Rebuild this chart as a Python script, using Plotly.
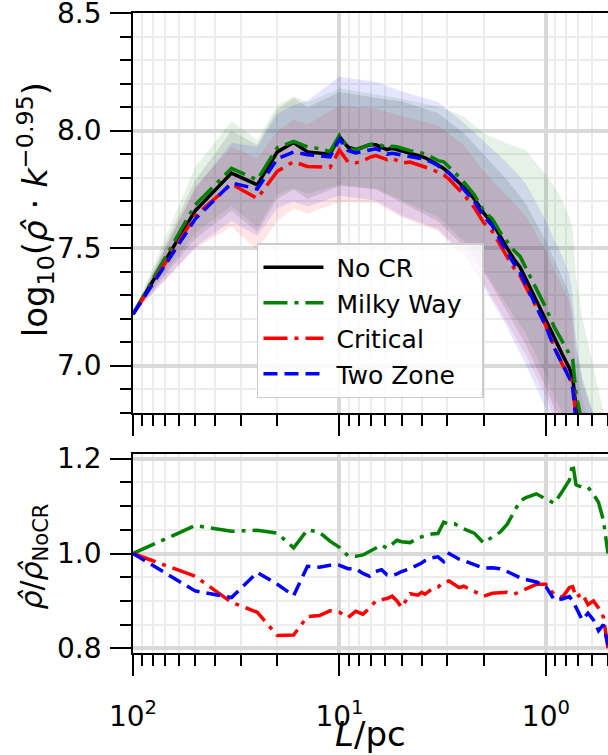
import numpy as np
import plotly.graph_objects as go

# Wavenumber index k of each power-spectrum bin; scale L = 100 pc / k
k = [1, 2, 3, 4, 5, 6, 7, 8, 9, 10, 11, 12, 13, 14, 15, 16, 17, 18, 19, 20,
     22, 24, 25, 26, 28, 30, 32, 34, 36, 38, 40, 45, 50, 55, 60, 65, 70, 75,
     80, 90, 100, 110, 120, 130, 135, 140, 150, 160, 170, 180, 190, 200]
box_size_pc = 100.0

# log10(rho_hat * k^-0.95) for the run without cosmic rays
log_nocr = [7.22, 7.66, 7.82, 7.77, 7.91, 7.95, 7.91, 7.905, 7.90, 7.975,
            7.93, 7.92, 7.93, 7.94, 7.94, 7.93, 7.92, 7.925, 7.92, 7.915,
            7.905, 7.895, 7.89, 7.885, 7.87, 7.855, 7.84, 7.82, 7.80, 7.78,
            7.76, 7.71, 7.65, 7.61, 7.55, 7.50, 7.455, 7.42, 7.37, 7.28,
            7.20, 7.12, 7.05, 6.99, 6.95, 6.82, 6.70, 6.62, 6.55, 6.47,
            6.40, 6.32]

# rho_hat / rho_hat_NoCR for the cosmic-ray runs
ratio_mw = [1.000, 1.059, 1.047, 1.049, 1.043, 1.012, 1.050, 1.045, 1.026, 1.013,
            0.995, 0.994, 0.997, 1.004, 1.010, 1.018, 1.011, 1.020, 1.028, 1.025,
            1.023, 1.033, 1.035, 1.037, 1.041, 1.042, 1.066, 1.062, 1.063, 1.057,
            1.052, 1.043, 1.022, 1.035, 1.045, 1.062, 1.087, 1.111, 1.118, 1.126,
            1.115, 1.106, 1.131, 1.155, 1.190, 1.145, 1.140, 1.140, 1.125, 1.108,
            1.070, 1.000]
ratio_crit = [1.000, 0.952, 0.897, 0.876, 0.827, 0.828, 0.867, 0.869, 0.879, 0.876,
              0.865, 0.878, 0.872, 0.885, 0.900, 0.902, 0.905, 0.910, 0.900, 0.886,
              0.915, 0.912, 0.918, 0.914, 0.925, 0.929, 0.939, 0.942, 0.935, 0.928,
              0.931, 0.919, 0.910, 0.916, 0.918, 0.918, 0.914, 0.920, 0.925, 0.935,
              0.935, 0.913, 0.907, 0.928, 0.930, 0.907, 0.916, 0.892, 0.900, 0.885,
              0.866, 0.800]
ratio_tz = [1.000, 0.921, 0.907, 0.960, 0.935, 0.911, 0.973, 0.971, 0.975, 0.975,
            0.968, 0.968, 0.958, 0.952, 0.962, 0.966, 0.955, 0.953, 0.957, 0.962,
            0.968, 0.975, 0.980, 0.985, 0.991, 0.993, 0.983, 1.000, 0.993, 0.988,
            0.985, 0.977, 0.969, 0.970, 0.968, 0.962, 0.955, 0.949, 0.945, 0.940,
            0.930, 0.902, 0.904, 0.909, 0.900, 0.886, 0.860, 0.874, 0.860, 0.837,
            0.850, 0.806]

# Scatter bands (upper / lower offsets in dex) on a coarser set of bins
k_band = [1, 2, 3, 4, 5, 6, 7, 10, 15, 20, 30, 40, 50, 65, 80, 100, 110,
          120, 130, 135, 140, 150, 170, 200]
up_nocr = [0, .13, .18, .17, .18, .19, .19, .19, .20, .21, .22, .23, .25, .29,
           .32, .33, .33, .33, .32, .28, .25, .25, .25, .25]
dn_nocr = [0, .12, .16, .20, .20, .20, .20, .21, .19, .22, .24, .25, .25, .27,
           .28, .29, .30, .30, .30, .30, .30, .30, .30, .30]
up_mw = [0, .16, .20, .17, .18, .19, .19, .20, .21, .21, .23, .28, .33, .42,
         .50, .56, .60, .60, .58, .56, .50, .45, .40, .40]
dn_mw = [0, .12, .16, .20, .20, .20, .20, .21, .19, .22, .24, .25, .25, .27,
         .28, .29, .30, .30, .30, .30, .30, .30, .30, .30]
up_crit = [0, .12, .16, .17, .17, .18, .18, .19, .20, .20, .20, .21, .22, .26,
           .30, .32, .33, .33, .32, .25, .20, .20, .20, .20]
dn_crit = [0, .14, .18, .22, .21, .20, .20, .22, .20, .23, .25, .26, .26, .28,
           .29, .30, .30, .30, .30, .30, .30, .30, .30, .30]
up_tz = [0, .13, .17, .18, .19, .20, .23, .265, .285, .27, .27, .28, .32, .38,
         .43, .45, .46, .46, .44, .40, .35, .30, .30, .30]
dn_tz = [0, .12, .16, .20, .21, .21, .22, .24, .22, .26, .27, .28, .30, .32,
         .34, .35, .35, .35, .35, .35, .35, .35, .35, .35]

# axis ticks
x_tickvals = [100, 10, 1]
x_ticktext = ["10<sup>2</sup>", "10<sup>1</sup>", "10<sup>0</sup>"]
y_top_ticks = [7.0, 7.5, 8.0, 8.5]
y_bottom_ticks = [0.8, 1.0, 1.2]

L = box_size_pc / np.array(k, dtype=float)
L_band = box_size_pc / np.array(k_band, dtype=float)
band_idx = [k.index(kb) for kb in k_band]

nocr = np.array(log_nocr)
runs = [
    ("No CR", nocr, None, up_nocr, dn_nocr, "#000000", "rgba(0,0,0,0.10)", "solid"),
    ("Milky Way", nocr + np.log10(ratio_mw), ratio_mw, up_mw, dn_mw,
     "#008000", "rgba(0,128,0,0.10)", "24px,7px,4px,7px"),
    ("Critical", nocr + np.log10(ratio_crit), ratio_crit, up_crit, dn_crit,
     "#ff0000", "rgba(255,0,0,0.10)", "24px,7px,4px,7px"),
    ("Two Zone", nocr + np.log10(ratio_tz), ratio_tz, up_tz, dn_tz,
     "#0000ff", "rgba(0,0,255,0.10)", "14px,7px"),
]

# legend labels, padded with no-break spaces for spacing inside the box
NBSP = "\u00a0"
legend_label = {
    "No CR": NBSP + "No CR",
    "Milky Way": NBSP + "Milky Way" + NBSP * 2,
    "Critical": NBSP + "Critical",
    "Two Zone": NBSP + "Two Zone",
}

fig = go.Figure()

# shaded scatter bands
for name, y, _, up, dn, col, fillcol, dash in runs:
    centre = y[band_idx]
    upper = centre + np.array(up)
    lower = centre - np.array(dn)
    fig.add_trace(go.Scatter(
        x=np.concatenate([L_band, L_band[::-1]]),
        y=np.concatenate([upper, lower[::-1]]),
        fill="toself", fillcolor=fillcol, line=dict(width=0),
        mode="lines", hoverinfo="skip", showlegend=False,
        xaxis="x", yaxis="y"))

# mean spectra
for name, y, _, up, dn, col, fillcol, dash in runs:
    fig.add_trace(go.Scatter(
        x=L, y=y, mode="lines", name=legend_label[name], legendgroup=name,
        line=dict(color=col, width=3.5, dash=dash),
        xaxis="x", yaxis="y"))

# ratios to the No CR run
for name, y, ratio, up, dn, col, fillcol, dash in runs[1:]:
    fig.add_trace(go.Scatter(
        x=L, y=ratio, mode="lines", showlegend=False,
        line=dict(color=col, width=3.5, dash=dash),
        xaxis="x2", yaxis="y2"))

font_family = "DejaVu Sans"
minor_x = [m * 10.0 ** e for e in (1, 0, -1) for m in range(2, 10)]
minor_x = [v for v in minor_x if v >= 0.5]

grid_major = "#d9d9d9"
grid_minor = "#ececec"

xcommon = dict(
    type="log", range=[2, np.log10(0.5)],
    showline=True, linecolor="black", linewidth=2, mirror=True,
    ticks="outside", ticklen=21, tickwidth=2, tickcolor="black",
    tickvals=x_tickvals,
    showgrid=True, gridcolor=grid_major, gridwidth=3.5,
    minor=dict(tickmode="array", tickvals=minor_x, ticks="outside",
               ticklen=11, tickwidth=1.5, tickcolor="black",
               showgrid=True, gridcolor=grid_minor, gridwidth=1.5),
    zeroline=False,
)

# y tick labels are set as annotations so their gap from the ticks is exact
ycommon = dict(
    showline=True, linecolor="black", linewidth=2, mirror=False,
    ticks="outside", ticklen=21, tickwidth=2, tickcolor="black",
    showticklabels=False,
    showgrid=True, gridcolor=grid_major, gridwidth=3.5,
    zeroline=False,
)
yminor = dict(tick0=0, ticks="outside", ticklen=11, tickwidth=1.5,
              tickcolor="black", showgrid=True, gridcolor=grid_minor,
              gridwidth=1.5)

plot_left, plot_width = 133, 475
label_x = (103 - plot_left) / plot_width

annotations = []
for yref, vals in (("y", y_top_ticks), ("y2", y_bottom_ticks)):
    for v in vals:
        annotations.append(dict(
            text=f"{v:.1f}", xref="paper", yref=yref, x=label_x, y=v,
            xanchor="right", yanchor="middle", showarrow=False,
            borderpad=0, font=dict(size=28)))

annotations += [
    dict(text="<i>L</i>/pc", xref="paper", yref="paper",
         x=0.5, y=-0.127, xanchor="center", yanchor="middle",
         showarrow=False, font=dict(size=34)),
    dict(text="log<sub>10</sub>(<i>ρ̂</i> · <i>k</i><sup>−0.95</sup>)",
         xref="paper", yref="paper", x=-0.206, y=0.692,
         xanchor="center", yanchor="middle", textangle=-90,
         showarrow=False, font=dict(size=34)),
    dict(text="<i>ρ̂</i>/<i>ρ̂</i><sub>NoCR</sub>",
         xref="paper", yref="paper", x=-0.21, y=0.151,
         xanchor="center", yanchor="middle", textangle=-90,
         showarrow=False, font=dict(size=30)),
]

fig.update_layout(
    width=608, height=755,
    margin=dict(l=plot_left, r=0, t=13, b=102),
    plot_bgcolor="white", paper_bgcolor="white",
    font=dict(family=font_family, size=28, color="black"),
    showlegend=True,
    legend=dict(x=0.261, y=0.6406, xanchor="left", yanchor="top",
                bgcolor="rgba(255,255,255,0.85)", bordercolor="#cccccc",
                borderwidth=1.5, font=dict(size=25), itemwidth=60,
                tracegroupgap=8, traceorder="normal"),
    xaxis=dict(domain=[0, 1], anchor="y", matches="x2",
               showticklabels=False, **xcommon),
    xaxis2=dict(domain=[0, 1], anchor="y2", ticktext=x_ticktext,
                ticklabelstandoff=16, **xcommon),
    yaxis=dict(domain=[0.375, 1], anchor="x", range=[6.8, 8.5005],
               tickvals=y_top_ticks,
               minor=dict(dtick=0.1, **yminor), **ycommon),
    yaxis2=dict(domain=[0, 0.3109], anchor="x2", range=[0.79, 1.21],
                tickvals=y_bottom_ticks,
                minor=dict(dtick=0.05, **yminor), **ycommon),
    annotations=annotations,
)

fig.write_html("out.html")
